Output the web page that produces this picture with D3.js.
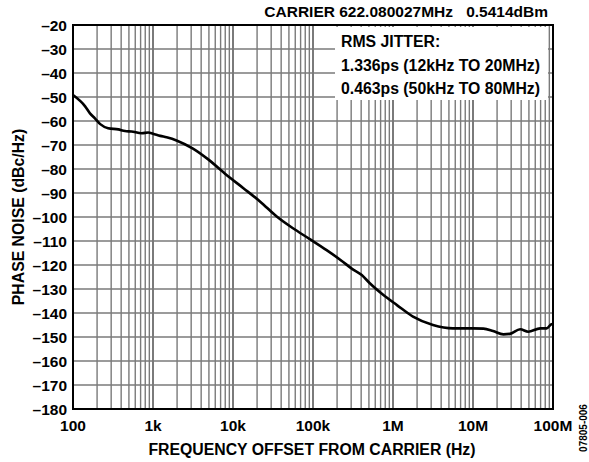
<!DOCTYPE html>
<html>
<head>
<meta charset="utf-8">
<style>
  body { margin: 0; background: #fff; }
  svg text { font-family: "Liberation Sans", Arial, sans-serif; font-weight: bold; fill: #000; }
</style>
</head>
<body>
<svg width="589" height="462"></svg>
<script src="https://cdn.jsdelivr.net/npm/d3@7"></script>
<script>
// phase noise curve
const freq = [100, 141, 163, 188, 219, 275, 368, 447, 537, 724, 871, 1000, 1230, 1480, 2000, 3160, 4900,
  8300, 13500, 21900, 35500, 56200, 91200, 148000, 229000, 302000, 407000, 513000, 759000,
  1.12e6, 1.78e6, 3.16e6, 5.62e6, 1e7, 1.35e7, 1.78e7, 2.4e7, 2.88e7, 3.89e7, 4.9e7, 6.92e7, 8.32e7, 9.55e7, 1e8]
const noise = [-49.2, -53.8, -56.8, -58.9, -61.3, -63.0, -63.5, -64.2, -64.4, -65.1, -64.8, -65.3, -66.2, -66.8, -68.2, -71.5, -76.0,
  -82.5, -88.0, -93.6, -99.9, -104.7, -109.2, -113.8, -118.3, -121.4, -124.2, -127.6, -132.5,
  -136.7, -141.5, -145.0, -146.4, -146.4, -146.5, -147.5, -148.9, -148.7, -146.8, -147.8, -146.4, -146.4, -144.7, -144.6]

const xTicks = [1e2, 1e3, 1e4, 1e5, 1e6, 1e7, 1e8]
const xTickLabels = ["100", "1k", "10k", "100k", "1M", "10M", "100M"]
const yTicks = d3.range(-180, -19, 10)
const legendLines = ["RMS JITTER:", "1.336ps (12kHz TO 20MHz)", "0.463ps (50kHz TO 80MHz)"]

const svg = d3.select("svg")
const m = { left: 73, top: 25, right: 553, bottom: 409 }

const x = d3.scaleLog().domain([1e2, 1e8]).range([m.left, m.right])
const y = d3.scaleLinear().domain([-180, -20]).range([m.bottom, m.top])

// minor + major vertical grid
let vlines = []
for (let e = 2; e < 8; e++) for (let k = 1; k <= 9; k++) vlines.push(k * Math.pow(10, e))
vlines.push(1e8)

const grid = svg.append("g")
grid.selectAll(".v").data(vlines).join("line")
  .attr("x1", d => x(d)).attr("x2", d => x(d))
  .attr("y1", m.top).attr("y2", m.bottom)
  .attr("stroke", "#7a7a7a")
  .attr("stroke-width", d => xTicks.includes(d) ? 2 : 1.4)
grid.selectAll(".h").data(yTicks).join("line")
  .attr("x1", m.left).attr("x2", m.right)
  .attr("y1", d => y(d)).attr("y2", d => y(d))
  .attr("stroke", "#7a7a7a").attr("stroke-width", 1.6)

// legend box hides the grid
svg.append("rect").attr("x", 335).attr("y", 27).attr("width", 213).attr("height", 73).attr("fill", "#fff")
svg.selectAll(".leg").data(legendLines).join("text")
  .attr("x", 341).attr("y", (d, i) => 47 + i * 23.5)
  .attr("font-size", 15.8).text(d => d)

// curve
const line = d3.line().x(d => x(d[0])).y(d => y(d[1])).curve(d3.curveMonotoneX)
svg.append("path").datum(d3.zip(freq, noise))
  .attr("d", line).attr("fill", "none").attr("stroke", "#000").attr("stroke-width", 2.6)

// frame
svg.append("rect").attr("x", m.left).attr("y", m.top)
  .attr("width", m.right - m.left).attr("height", m.bottom - m.top)
  .attr("fill", "none").attr("stroke", "#000").attr("stroke-width", 2)

// y labels
svg.selectAll(".yl").data(yTicks).join("text")
  .attr("x", 67).attr("y", d => y(d) + 5.5)
  .attr("text-anchor", "end").attr("font-size", 15.5)
  .text(d => "\u2013" + Math.abs(d))

// x labels
svg.selectAll(".xl").data(xTicks).join("text")
  .attr("x", d => x(d)).attr("y", 431)
  .attr("text-anchor", "middle").attr("font-size", 15.5)
  .text((d, i) => xTickLabels[i])

svg.append("text").attr("x", 312).attr("y", 455).attr("text-anchor", "middle")
  .attr("font-size", 15.8).text("FREQUENCY OFFSET FROM CARRIER (Hz)")
svg.append("text").attr("transform", "translate(24,217) rotate(-90)").attr("text-anchor", "middle")
  .attr("font-size", 15.8).text("PHASE NOISE (dBc/Hz)")

svg.append("text").attr("x", 453).attr("y", 17).attr("text-anchor", "end")
  .attr("font-size", 15.5).text("CARRIER 622.080027MHz")
svg.append("text").attr("x", 548).attr("y", 17).attr("text-anchor", "end")
  .attr("font-size", 15.5).text("0.5414dBm")

svg.append("text").attr("transform", "translate(587,428) rotate(-90)").attr("text-anchor", "middle")
  .attr("font-size", 10).attr("font-weight", "normal").text("07805-006")
</script>
</body>
</html>
